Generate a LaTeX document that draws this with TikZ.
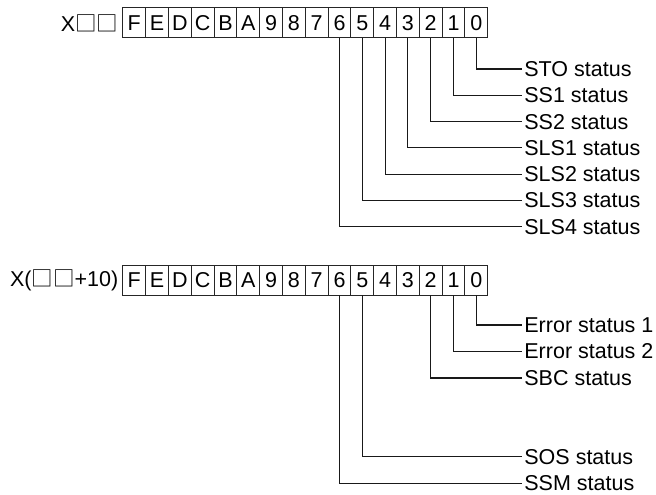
\documentclass[tikz,border=0pt]{standalone}
\usepackage{fontspec}
\setmainfont{Liberation Sans}
\newfontfamily\cjk{Noto Sans CJK JP}
\usepackage{tikz}
\usetikzlibrary{positioning}
\tikzstyle{bitcell} = [draw=black!85, line width=1pt, minimum width=22.8pt,
                       minimum height=30pt, inner sep=0pt, outer sep=0pt]
\tikzstyle{status}  = [anchor=west, inner sep=2.5pt]
\tikzstyle{wire}    = [draw=black!90, line width=1.1pt]

\begin{document}
\begin{tikzpicture}[x=1pt, y=-1pt, font=\fontsize{21.5}{25}\selectfont]
  \useasboundingbox (0,0) rectangle (656,495);

  % --- Register X□□ ---
  \foreach \d [count=\b from 0] in {0,1,2,3,4,5,6,7,8,9,A,B,C,D,E,F}
    \node[bitcell] (a\b) at (487.7-22.8*\b-11.4, 23) {\d};
  \node[inner sep=0pt, left=4.5pt of a15] (xa) {X{\cjk □□}};

  \node[status] (s0) at (521.7, 69.0)  {STO status};
  \node[status] (s1) at (521.7, 95.3)  {SS1 status};
  \node[status] (s2) at (521.7, 121.6) {SS2 status};
  \node[status] (s3) at (521.7, 147.9) {SLS1 status};
  \node[status] (s4) at (521.7, 174.2) {SLS2 status};
  \node[status] (s5) at (521.7, 200.5) {SLS3 status};
  \node[status] (s6) at (521.7, 226.8) {SLS4 status};

  \foreach \b in {0,...,6} \draw[wire] (a\b.south) |- (s\b.west);

  % --- Register X(□□+10) ---
  \foreach \d [count=\b from 0] in {0,1,2,3,4,5,6,7,8,9,A,B,C,D,E,F}
    \node[bitcell] (b\b) at (487.7-22.8*\b-11.4, 280) {\d};
  \node[inner sep=0pt, left=4.5pt of b15] (xb) {X({\cjk □□}+10)};

  \node[status] (e0) at (521.7, 325.0) {Error status 1};
  \node[status] (e1) at (521.7, 351.5) {Error status 2};
  \node[status] (e2) at (521.7, 378.0) {SBC status};
  \node[status] (e5) at (521.7, 456.7) {SOS status};
  \node[status] (e6) at (521.7, 483.2) {SSM status};

  \foreach \b in {0,1,2,5,6} \draw[wire] (b\b.south) |- (e\b.west);
\end{tikzpicture}
\end{document}
